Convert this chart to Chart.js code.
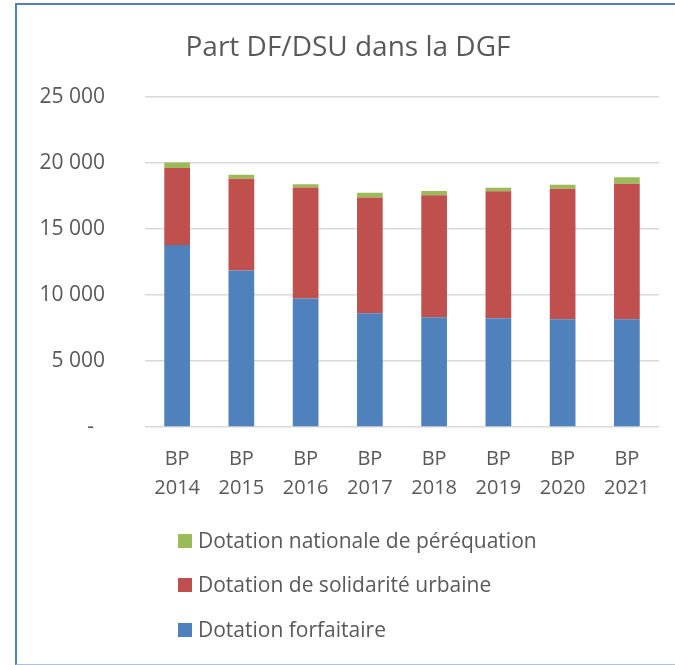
<!DOCTYPE html>
<html>
<head>
<meta charset="utf-8">
<script src="https://cdn.jsdelivr.net/npm/chart.js@4"></script>
<style>
  html, body { margin: 0; padding: 0; background: #fff; }
  #wrap { position: relative; width: 675px; height: 665px; overflow: hidden; }
  #frame { position: absolute; left: 15px; top: 3px; width: 700px; height: 659px;
           border-left: 2px solid #4f81bd; border-top: 2px solid #4f81bd; border-bottom: 1.5px solid #a9c2e0; }
  canvas { position: absolute; left: 0; top: 0; }
</style>
</head>
<body>
<div id="wrap">
  <div id="frame"></div>
  <canvas id="c" width="675" height="665"></canvas>
</div>
<script>
const title = 'Part DF/DSU dans la DGF';
const categories = [['BP','2014'],['BP','2015'],['BP','2016'],['BP','2017'],['BP','2018'],['BP','2019'],['BP','2020'],['BP','2021']];
const seriesNames = ['Dotation forfaitaire', 'Dotation de solidarité urbaine', 'Dotation nationale de péréquation'];
const dotationForfaitaire = [13770, 11840, 9720, 8610, 8310, 8230, 8160, 8160];
const dotationSolidariteUrbaine = [5830, 6950, 8410, 8760, 9220, 9600, 9870, 10250];
const dotationPerequation = [420, 300, 230, 350, 330, 280, 300, 480];
const yTickValues = [0, 5000, 10000, 15000, 20000, 25000];
const yTickLabels = ['-  ', '5 000', '10 000', '15 000', '20 000', '25 000'];
const colors = ['#4f81bd', '#c0504d', '#9bbb59'];

const textColor = '#595959';
const fontFamily = '"Open Sans", "Noto Sans", sans-serif';

const customLegend = {
  id: 'customLegend',
  afterDraw(chart) {
    const ctx = chart.ctx;
    const ds = chart.data.datasets;
    const rows = [541, 585, 630];
    ctx.save();
    ctx.font = '21px ' + fontFamily;
    ctx.textBaseline = 'middle';
    ctx.textAlign = 'left';
    for (let i = 0; i < ds.length; i++) {
      const d = ds[ds.length - 1 - i];
      const y = rows[i];
      ctx.fillStyle = d.backgroundColor;
      ctx.fillRect(178, y - 7, 14, 14);
      ctx.fillStyle = textColor;
      ctx.fillText(d.label, 198, y + 1);
    }
    ctx.restore();
  }
};

new Chart(document.getElementById('c'), {
  type: 'bar',
  data: {
    labels: categories,
    datasets: [
      { label: seriesNames[0], data: dotationForfaitaire, backgroundColor: colors[0] },
      { label: seriesNames[1], data: dotationSolidariteUrbaine, backgroundColor: colors[1] },
      { label: seriesNames[2], data: dotationPerequation, backgroundColor: colors[2] }
    ]
  },
  options: {
    responsive: false,
    animation: false,
    devicePixelRatio: 1,
    layout: { padding: { left: 37, right: 16, top: 0, bottom: 158 } },
    datasets: { bar: { categoryPercentage: 1, barPercentage: 0.4, borderWidth: 0 } },
    plugins: {
      legend: { display: false },
      tooltip: { enabled: false },
      title: {
        display: true,
        text: title,
        color: textColor,
        font: { family: fontFamily, size: 28, weight: 'normal' },
        padding: { top: 31, bottom: 32 }
      }
    },
    scales: {
      x: {
        stacked: true,
        grid: { display: false, drawTicks: false },
        border: { display: false },
        ticks: {
          color: textColor,
          font: { family: fontFamily, size: 20, lineHeight: 1.45 },
          padding: 18,
          maxRotation: 0,
          autoSkip: false
        },
        afterFit(scale) { scale.height = 80; }
      },
      y: {
        stacked: true,
        min: 0,
        max: 25000,
        afterBuildTicks(scale) { scale.ticks = yTickValues.map(v => ({ value: v })); },
        grid: { color: '#d9d9d9', lineWidth: 1.5, drawTicks: false },
        border: { display: false },
        ticks: {
          color: textColor,
          font: { family: fontFamily, size: 21 },
          padding: 40,
          callback(v) { const i = yTickValues.indexOf(v); return i >= 0 ? yTickLabels[i] : ''; }
        },
        afterFit(scale) { scale.width = 108; }
      }
    }
  },
  plugins: [customLegend]
});
</script>
</body>
</html>
